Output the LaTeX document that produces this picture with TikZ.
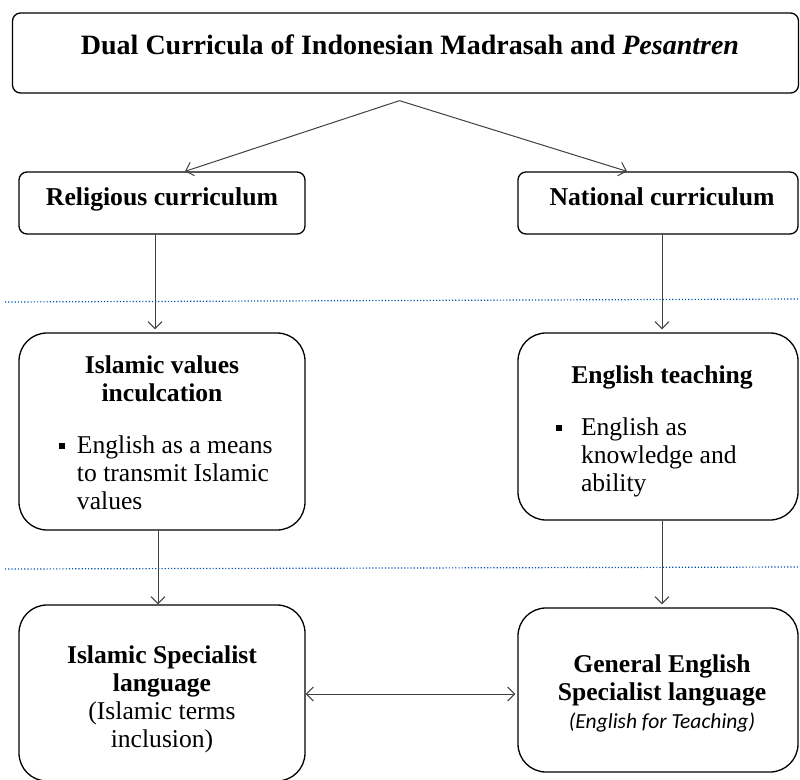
\documentclass[tikz,border=0pt]{standalone}
\usepackage{fontspec}
\setmainfont{Liberation Serif}
\newfontfamily\calib{Carlito}
\usepackage{tikz}
\usetikzlibrary{arrows.meta,positioning,calc}

\tikzset{
  box/.style={draw=black,line width=1.3bp,rounded corners=#1,inner sep=0pt},
  box/.default=10bp,
  conn/.style={draw=black!75,line width=1bp},
  sep line/.style={draw=blue!55!cyan!70!black,dotted,line width=1.2bp},
  txt/.style={font=\fontsize{25.6bp}{28bp}\selectfont,align=center},
  head/.style={font=\fontsize{25.7bp}{28bp}\selectfont\bfseries,anchor=base},
}
\newcommand{\bulsq}{\rule[5bp]{6bp}{6bp}}

\begin{document}
\begin{tikzpicture}[x=1bp,y=-1bp,>={Straight Barb[length=7bp,width=14bp]}]
\useasboundingbox (0,0) rectangle (800,780);
% boxes
\node[box=8bp,minimum width=786bp,minimum height=80bp] (dual) at (405.5,53) {};
\node[box=8bp,minimum width=286bp,minimum height=62bp] (relig) at (162,203) {};
\node[box=8bp,minimum width=280bp,minimum height=62bp] (natl) at (658,203) {};
\node[box=28bp,minimum width=286bp,minimum height=197bp] (values) at (162,431.5) {};
\node[box=28bp,minimum width=280bp,minimum height=187bp] (teach) at (658,426.5) {};
\node[box=28bp,minimum width=286bp,minimum height=176bp] (islspec) at (162,693) {};
\node[box=28bp,minimum width=280bp,minimum height=164bp] (genspec) at (658,690) {};

% texts
\node[head,font=\fontsize{28bp}{28bp}\selectfont\bfseries] (dualtxt) at (410,55)
  {Dual Curricula of Indonesian Madrasah and \textit{Pesantren}};
\node[head] (religtxt) at (162,205) {Religious curriculum};
\node[head] (natltxt) at (662,205) {National curriculum};
\node[txt] (valuestxt) at (162,437)
  {\textbf{Islamic values}\\\textbf{inculcation}\\[24bp]
   \makebox[232bp][l]{\hspace{13bp}\bulsq\hspace{12bp}\begin{tabular}[t]{@{}l@{}}English as a means\\to transmit Islamic\\values\end{tabular}}};
\node[txt] (teachtxt) at (662,433)
  {\textbf{English teaching}\\[24bp]
   \makebox[232bp][l]{\hspace{10bp}\bulsq\hspace{19bp}\begin{tabular}[t]{@{}l@{}}English as\\knowledge and\\ability\end{tabular}}};
\node[txt] (islspectxt) at (162,699)
  {\textbf{Islamic Specialist}\\\textbf{language}\\(Islamic terms\\inclusion)};
\node[txt] (genspectxt) at (662,693)
  {\textbf{General English}\\\textbf{Specialist language}\\{\calib\itshape\fontsize{21.5bp}{28bp}\selectfont (English for Teaching)}};

% separators
\coordinate (sepAl) at (5,302);
\coordinate (sepAr) at (800,299);
\coordinate (sepBl) at (5,569);
\coordinate (sepBr) at (800,567);
\draw[sep line] (sepAl) -- (sepAr);
\draw[sep line] (sepBl) -- (sepBr);

% connectors
\coordinate (split) at ($(dual.south)+(-6,7)$);
\draw[conn,->] (split) -- ($(relig.north)+(23,0)$);
\draw[conn,->] (split) -- ($(natl.north)+(-31,0)$);
\draw[conn,->] ($(relig.south)+(-7,0)$) -- ($(values.north)+(-7,-3)$);
\draw[conn,->] ($(natl.south)+(4,0)$) -- ($(teach.north)+(4,-3)$);
\draw[conn,->] ($(values.south)+(-4,0)$) -- ($(islspec.north)+(-4,0)$);
\draw[conn,->] ($(teach.south)+(4,0)$) -- ($(genspec.north)+(4,-3)$);
\draw[conn,<->] ($(islspec.east)+(0,1)$) -- ($(genspec.west)+(-2,4)$);
\end{tikzpicture}
\end{document}
